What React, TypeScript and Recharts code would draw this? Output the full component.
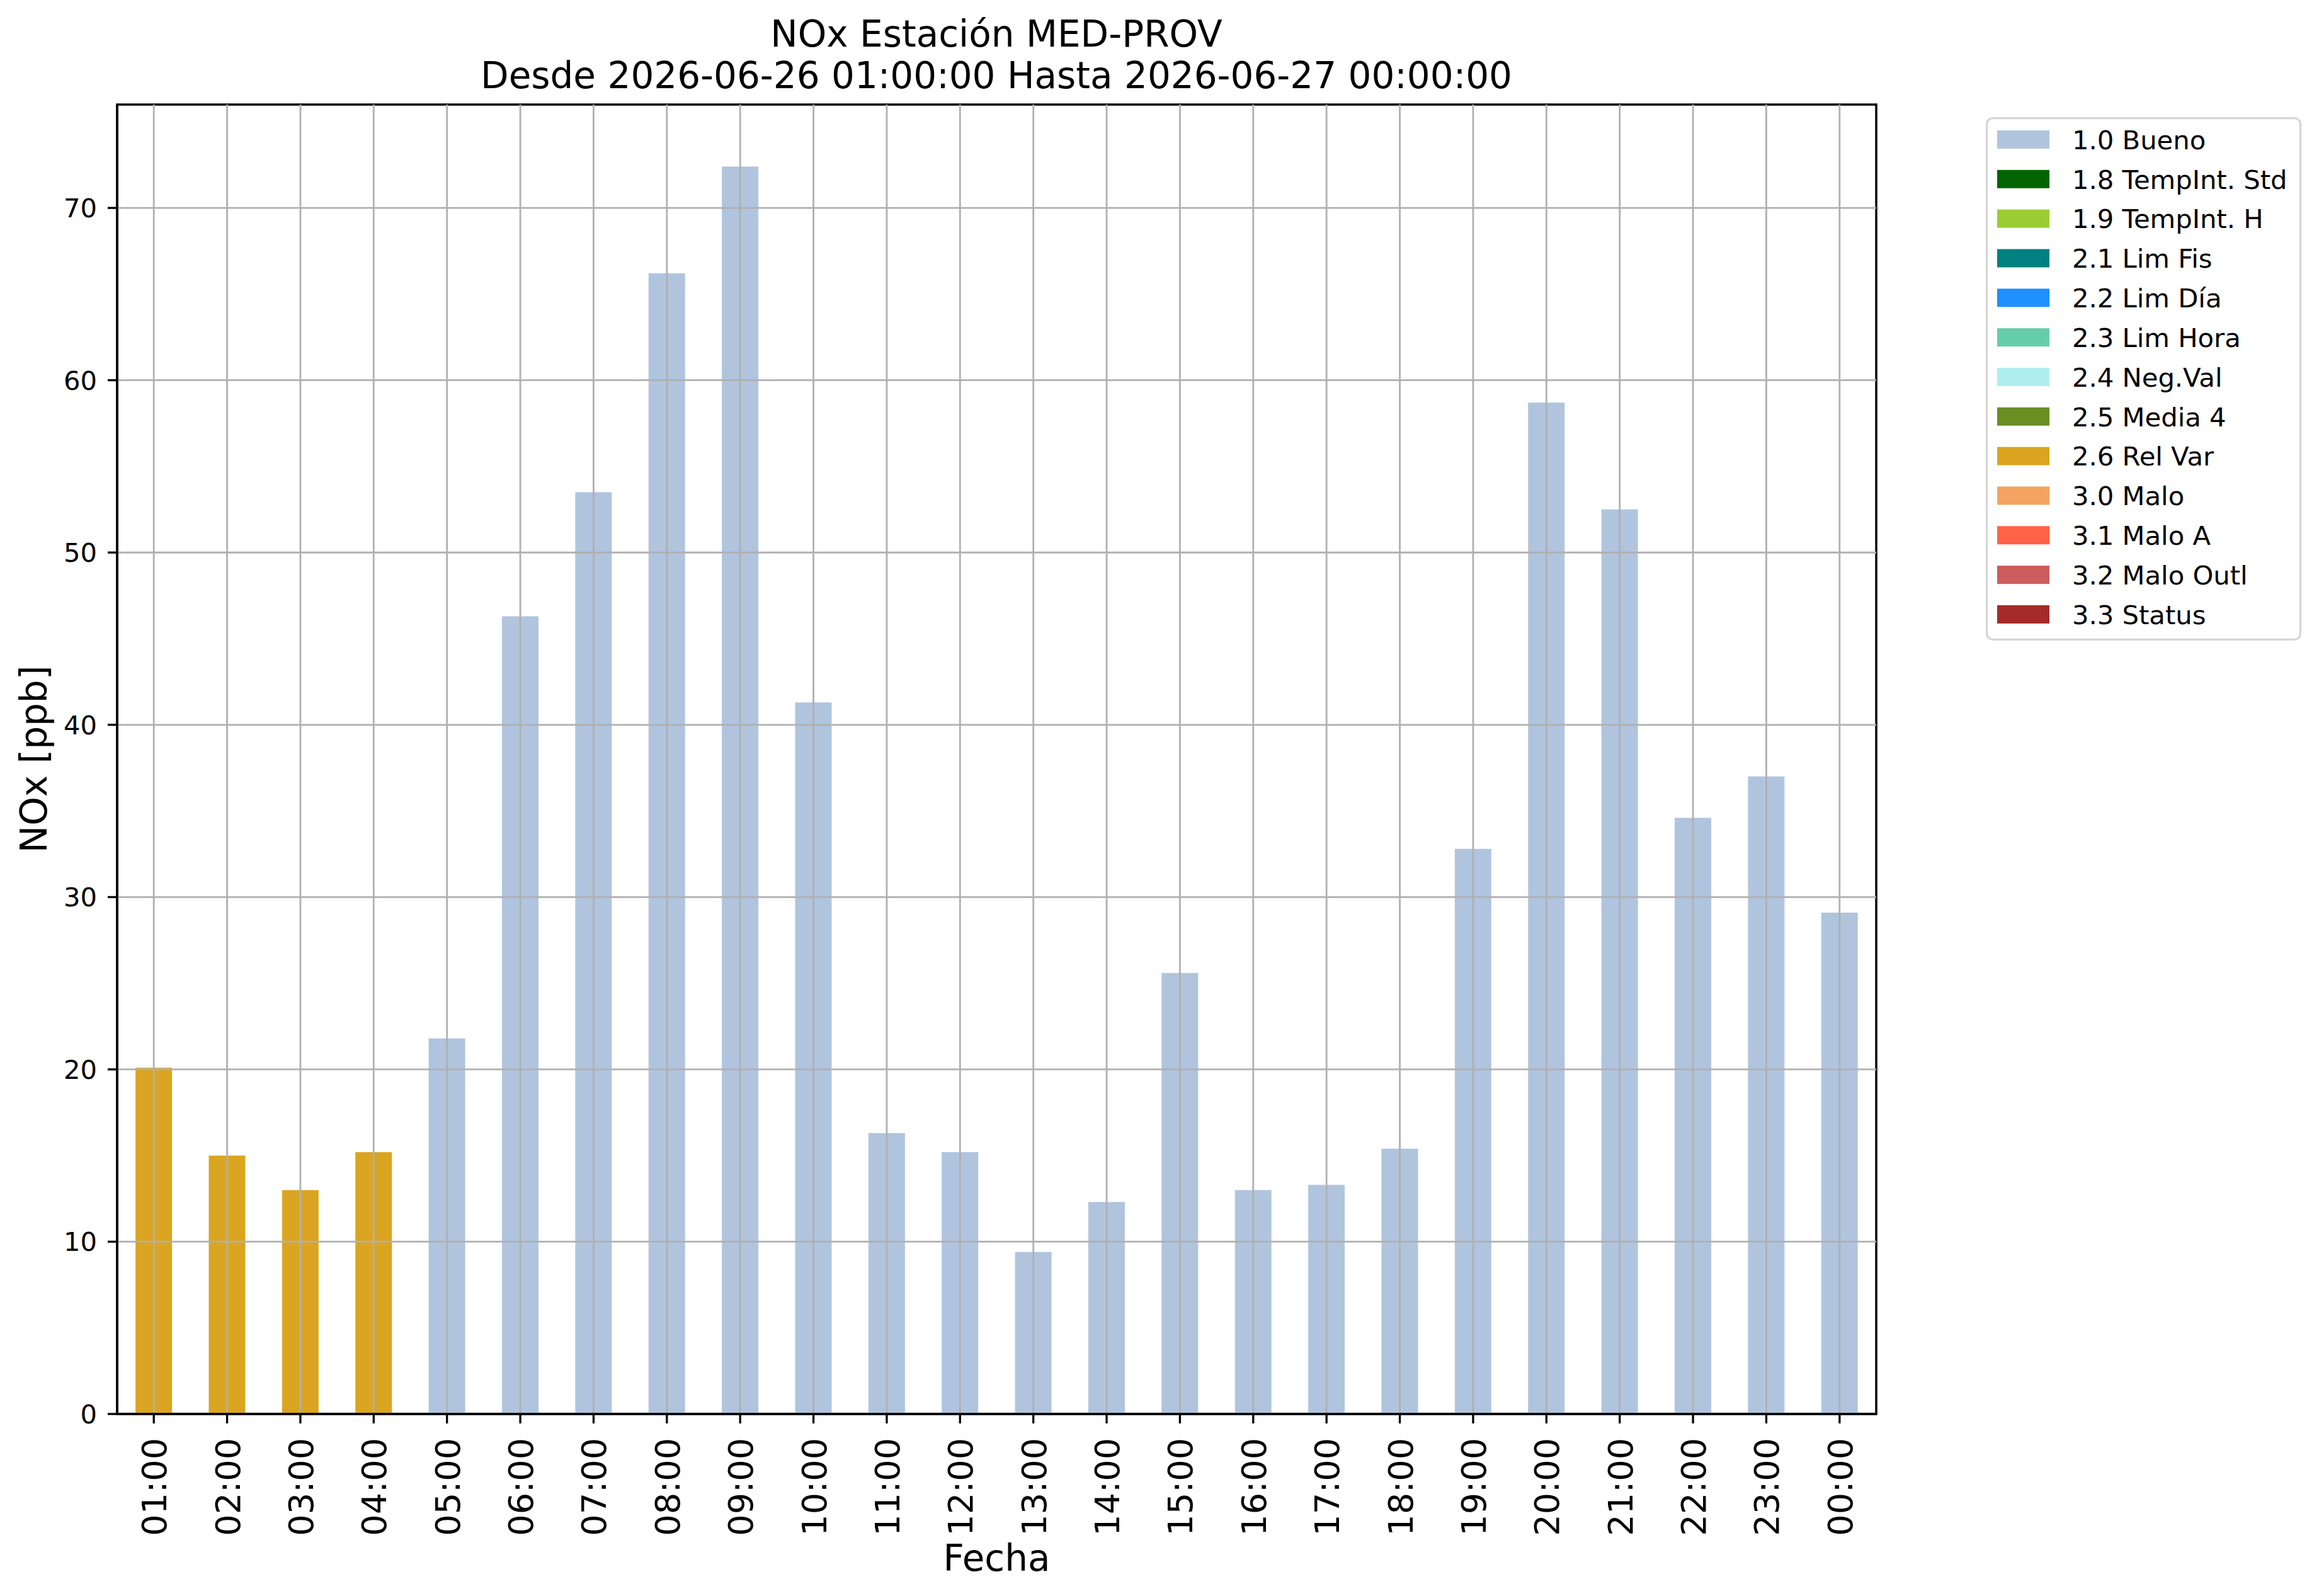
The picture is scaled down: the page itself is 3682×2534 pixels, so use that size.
import React from 'react';
import { BarChart, Bar, XAxis, YAxis, Legend, ReferenceLine, ReferenceArea } from 'recharts';

const HOURS = ['01:00', '02:00', '03:00', '04:00', '05:00', '06:00', '07:00', '08:00', '09:00', '10:00', '11:00', '12:00',
  '13:00', '14:00', '15:00', '16:00', '17:00', '18:00', '19:00', '20:00', '21:00', '22:00', '23:00', '00:00'];
const NOX = [20.1, 15.0, 13.0, 15.2, 21.8, 46.3, 53.5, 66.2, 72.4, 41.3, 16.3, 15.2,
  9.4, 12.3, 25.6, 13.0, 13.3, 15.4, 32.8, 58.7, 52.5, 34.6, 37.0, 29.1];
const HOUR_FLAG = ['2.6', '2.6', '2.6', '2.6', '1.0', '1.0', '1.0', '1.0', '1.0', '1.0', '1.0', '1.0',
  '1.0', '1.0', '1.0', '1.0', '1.0', '1.0', '1.0', '1.0', '1.0', '1.0', '1.0', '1.0'];
const FLAG_CODES = ['1.0', '1.8', '1.9', '2.1', '2.2', '2.3', '2.4', '2.5', '2.6', '3.0', '3.1', '3.2', '3.3'];
const FLAG_NAMES = ['1.0 Bueno', '1.8 TempInt. Std', '1.9 TempInt. H', '2.1 Lim Fis', '2.2 Lim Día', '2.3 Lim Hora',
  '2.4 Neg.Val', '2.5 Media 4', '2.6 Rel Var', '3.0 Malo', '3.1 Malo A', '3.2 Malo Outl', '3.3 Status'];
const FLAG_COLORS = ['#B0C4DE', '#006400', '#9ACD32', '#008080', '#1E90FF', '#66CDAA', '#AFEEEE', '#6B8E23',
  '#DAA520', '#F4A460', '#FF6347', '#CD5C5C', '#A52A2A'];
const Y_TICKS = [0, 10, 20, 30, 40, 50, 60, 70];
const Y_MAX = 76;
const TITLE_1 = 'NOx Estación MED-PROV';
const TITLE_2 = 'Desde 2026-06-26 01:00:00 Hasta 2026-06-27 00:00:00';
const X_LABEL = 'Fecha';
const Y_LABEL = 'NOx [ppb]';

const keyOf = (code: string) => 'flag_' + code.replace('.', '_');

const data = HOURS.map((h, i) => {
  const row: Record<string, any> = { hour: h };
  FLAG_CODES.forEach((c) => {
    row[keyOf(c)] = HOUR_FLAG[i] === c ? NOX[i] : null;
  });
  return row;
});

const FONT = 'DejaVu Sans';
const GRID = '#b0b0b0';
const GRID_W = 2.8;

const XTick = (props: any) => {
  const { x, y, payload } = props;
  return (
    <text x={x} y={y} dy={20} transform={`rotate(-90, ${x}, ${y})`} textAnchor="end"
      fontFamily={FONT} fontSize={54} fill="#000">{payload.value}</text>
  );
};

const YTick = (props: any) => {
  const { x, y, payload } = props;
  return (
    <text x={x} y={y} dy={15} textAnchor="end" fontFamily={FONT} fontSize={41.7} fill="#000">{payload.value}</text>
  );
};

const LegendBox = (props: any) => {
  const payload = props.payload || [];
  const W = 501;
  const H = 831;
  const step = 62.83;
  return (
    <svg width={W} height={H} style={{ display: 'block' }}>
      <rect x={1.65} y={1.65} width={W - 3.3} height={H - 3.3} rx={9} ry={9}
        fill="#fff" stroke="#d6d6d6" strokeWidth={3.3} />
      {payload.map((p: any, i: number) => (
        <g key={i}>
          <rect x={18} y={21 + i * step} width={83} height={29} fill={p.color} />
          <text x={137} y={50.7 + i * step} fontFamily={FONT} fontSize={41.7} fill="#000">{p.value}</text>
        </g>
      ))}
    </svg>
  );
};

export default function App() {
  return (
    <div style={{ position: 'absolute', left: 0, top: 0, width: 3682, height: 2534, background: '#fff' }}>
      <BarChart width={3682} height={2534} data={data}
        margin={{ top: 166, right: 703, bottom: 39, left: 0 }}
        barCategoryGap="25%" style={{ fontFamily: FONT }}>
        <text x={1582} y={74} textAnchor="middle" fontFamily={FONT} fontSize={58} fill="#000">{TITLE_1}</text>
        <text x={1582} y={140} textAnchor="middle" fontFamily={FONT} fontSize={58} fill="#000">{TITLE_2}</text>
        <XAxis dataKey="hour" interval={0} height={250}
          tick={<XTick />} tickSize={15} tickMargin={23}
          tickLine={{ stroke: '#000', strokeWidth: 3.3 }}
          axisLine={{ stroke: '#000', strokeWidth: 3.5 }}
          label={{
            content: (p: any) => {
              const vb = p.viewBox || {};
              return (
                <text x={vb.x + vb.width / 2} y={vb.y + 249} textAnchor="middle"
                  fontFamily={FONT} fontSize={58} fill="#000">{X_LABEL}</text>
              );
            },
          }} />
        <YAxis width={186} domain={[0, Y_MAX]} ticks={Y_TICKS} allowDataOverflow
          tick={<YTick />} tickSize={15} tickMargin={17}
          tickLine={{ stroke: '#000', strokeWidth: 3.3 }}
          axisLine={{ stroke: '#000', strokeWidth: 3.5 }}
          label={{
            content: (p: any) => {
              const vb = p.viewBox || {};
              const cy = vb.y + vb.height / 2;
              return (
                <text x={74} y={cy} transform={`rotate(-90, 74, ${cy})`} textAnchor="middle"
                  fontFamily={FONT} fontSize={58} fill="#000">{Y_LABEL}</text>
              );
            },
          }} />
        {FLAG_CODES.map((c, i) => (
          <Bar key={c} dataKey={keyOf(c)} name={FLAG_NAMES[i]} stackId="s" fill={FLAG_COLORS[i]}
            isAnimationActive={false} />
        ))}
        {HOURS.map((h) => (
          <ReferenceLine key={'vx' + h} x={h} stroke={GRID} strokeWidth={GRID_W} />
        ))}
        {Y_TICKS.filter((t) => t > 0).map((t) => (
          <ReferenceLine key={'hy' + t} y={t} stroke={GRID} strokeWidth={GRID_W} />
        ))}
        <ReferenceArea x1={HOURS[0]} x2={HOURS[HOURS.length - 1]} y1={0} y2={Y_MAX}
          fill="none" fillOpacity={0} stroke="#000" strokeWidth={3.5} ifOverflow="visible" />
        <Legend layout="horizontal" verticalAlign="middle" align="center" content={<LegendBox />}
          wrapperStyle={{ position: 'absolute', left: 3153, top: 186, width: 501, height: 831 }} />
      </BarChart>
    </div>
  );
}
